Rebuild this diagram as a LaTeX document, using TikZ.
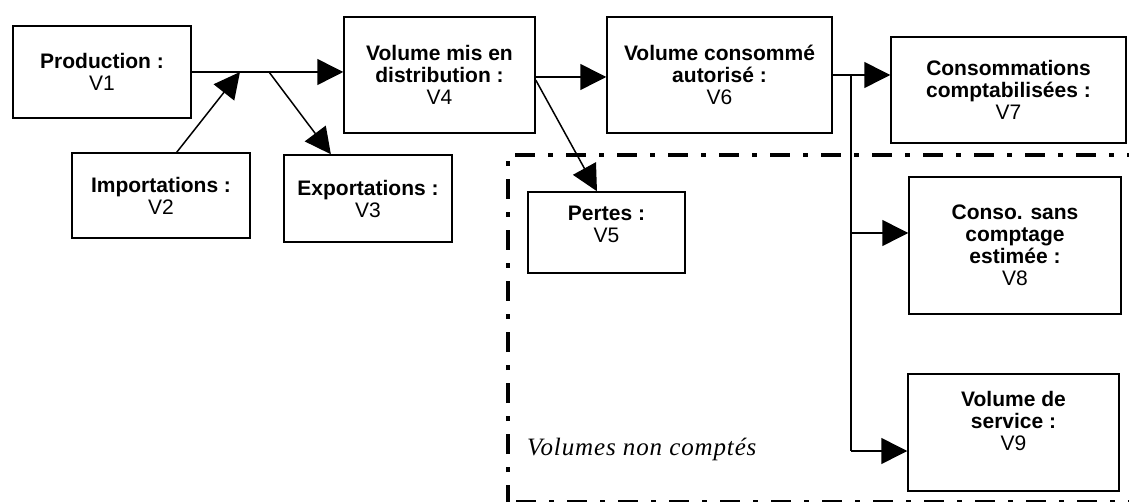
\documentclass[tikz,border=0pt]{standalone}
\usepackage{fontspec}
\setmainfont{Liberation Sans}
\newfontfamily\serifit{Liberation Serif}[LetterSpace=3.5]
\usetikzlibrary{arrows.meta}
\tikzset{
  box/.style={draw, line width=1.5pt, align=center, inner sep=0pt,
    font=\fontsize{21}{22}\selectfont},
  txt/.style={align=center, inner sep=0pt, font=\fontsize{21}{22}\selectfont},
  flow/.style={line width=1.5pt, -{Triangle[length=26pt,width=26pt]}},
  plain/.style={line width=1.5pt},
  region/.style={line width=3.5pt, dash pattern=on 20pt off 13pt on 5pt off 13pt},
}
\begin{document}
\begin{tikzpicture}[x=1pt,y=-1pt]
\useasboundingbox (0,0) rectangle (1129,502);
% boxes
\node[box, minimum width=178pt, minimum height=92pt] (p) at (102,72) {\textbf{Production :}\\V1};
\node[box, minimum width=178pt, minimum height=85pt] (imp) at (161,195.5) {\textbf{Importations :}\\V2};
\node[box, minimum width=168pt, minimum height=87pt] (exp) at (368,198.5) {\textbf{Exportations :}\\V3};
\node[box, minimum width=191pt, minimum height=116pt] (v4) at (439.5,75) {\textbf{Volume mis en}\\\textbf{distribution :}\\V4};
\node[box, minimum width=157pt, minimum height=81pt] (v5) at (606.5,232.5) {};
\node[txt] (t5) at (606.5,224) {\textbf{Pertes :}\\V5};
\node[box, minimum width=225pt, minimum height=116pt] (v6) at (719.5,75) {\textbf{Volume consommé}\\\textbf{autorisé :}\\V6};
\node[box, minimum width=235pt, minimum height=106pt] (v7) at (1008.5,90) {\textbf{Consommations}\\\textbf{comptabilisées :}\\V7};
\node[box, minimum width=212pt, minimum height=137pt] (v8) at (1015,245.5) {\textbf{Conso. sans}\\\textbf{comptage}\\\textbf{estimée :}\\V8};
\node[box, minimum width=211pt, minimum height=117pt] (v9) at (1013.5,432.5) {};
\node[txt] (t9) at (1013.5,420.5) {\textbf{Volume de}\\\textbf{service :}\\V9};
% junctions
\coordinate (j1) at (240,72);
\coordinate (j2) at (269,72);
\coordinate (b7) at (851,75);
\coordinate (b8) at (851,233);
\coordinate (b9) at (851,451);
% connectors
\draw[flow] (p.east) -- (p.east -| v4.west);
\draw[flow] (imp.70) -- (j1);
\draw[flow] (j2) -- (exp.130);
\draw[flow] ([yshift=-2pt]v4.east) -- ([yshift=-2pt]v6.west);
\draw[flow] (v4.-3) -- (v5.103);
\draw[flow] (v6.east) -- (v6.east -| v7.west);
\draw[plain] (b7) -- (b9);
\draw[flow] (b8) -- (b8 -| v8.west);
\draw[flow] (b9) -- (b9 -| v9.west);
% unmetered region
\draw[region] (508,505) -- (508,155) -- (1135,155);
\draw[region, line width=7pt] (516,503) -- (1135,503);
\node[anchor=base west, inner sep=0pt, font=\serifit\itshape\fontsize{25}{28}\selectfont] (nc) at (527,455) {Volumes non comptés};
\end{tikzpicture}
\end{document}
